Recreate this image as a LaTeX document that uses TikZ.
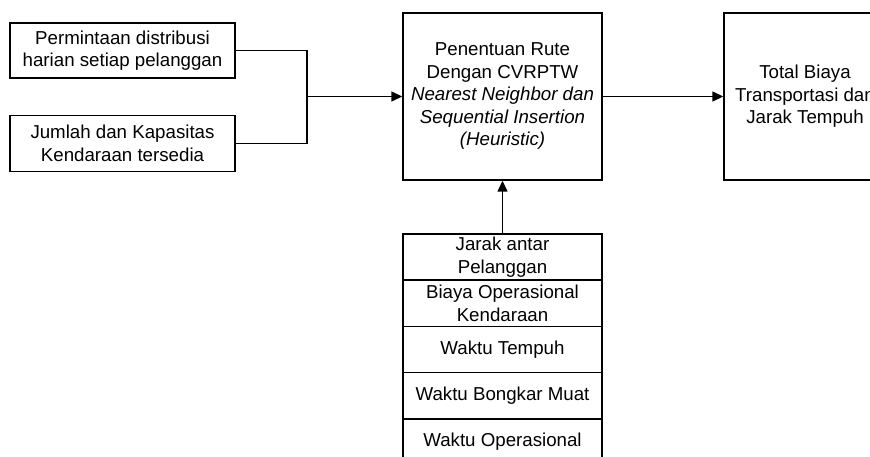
\documentclass[tikz,border=0pt]{standalone}
\usepackage{fontspec}
\setmainfont{Liberation Sans}
\usepackage{tikz}
\usetikzlibrary{arrows.meta, calc, positioning}

\begin{document}
\begin{tikzpicture}[x=1pt, y=1pt,
  box/.style={draw, line width=1.4pt, align=center, inner sep=0pt, font=\fontsize{18.7}{22.5}\selectfont},
  row/.style={box, outer sep=0pt, minimum width=199pt, minimum height=46.25pt},
  arr/.style={line width=1.4pt, -{Triangle[length=11pt, width=10pt]}}]
\clip (0,0) rectangle (870,-457);

% Inputs
\node[box, minimum width=225pt, minimum height=55pt] (perm) at (122.5,-50.5) {Permintaan distribusi\\harian setiap pelanggan};
\node[box, minimum width=225pt, minimum height=56pt] (armada) at (122.5,-143.5) {Jumlah dan Kapasitas\\Kendaraan tersedia};

% Model and result
\node[box, minimum width=199pt, minimum height=167pt] (rute) at (502.5,-96.5) {Penentuan Rute\\Dengan CVRPTW\\\textit{Nearest Neighbor dan}\\\textit{Sequential Insertion}\\\textit{(Heuristic)}};
\node[box, minimum width=162pt, minimum height=167pt] (total) at (805,-96.5) {Total Biaya\\Transportasi dan\\Jarak Tempuh};

% Parameters
\node[row] (jarak) at (502.5,-257) {Jarak antar\\Pelanggan};
\node[row, below=0pt of jarak] (biaya) {Biaya Operasional\\Kendaraan};
\node[row, below=0pt of biaya] (tempuh) {Waktu Tempuh};
\node[row, below=0pt of tempuh] (bongkar) {Waktu Bongkar Muat};
\node[row, below=0pt of bongkar] (operasional) {Waktu Operasional};

% Connectors
\coordinate (j) at (307,-96.5);
\draw[line width=1.4pt] (perm.east) -| (j) |- (armada.east);
\draw[arr] (j) -- (rute);
\draw[arr] (rute) -- (total);
\draw[arr] (jarak) -- (rute);

\end{tikzpicture}
\end{document}
